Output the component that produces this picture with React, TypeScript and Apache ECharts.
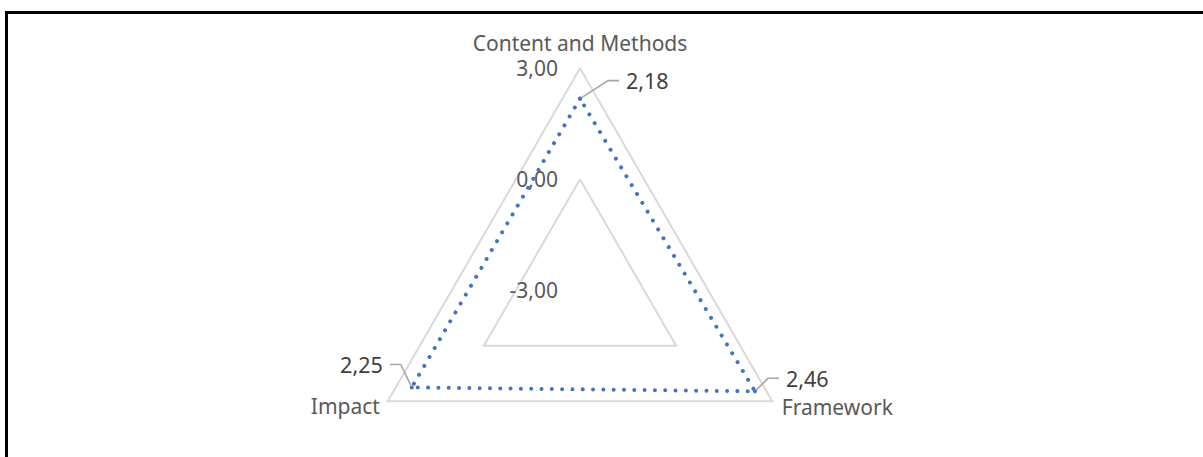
import React, { useEffect, useRef } from 'react';
import * as echarts from 'echarts';

// Radar axes, listed counter-clockwise from the top (ECharts order)
const indicators = ['Content and Methods', 'Impact', 'Framework'];
const scores = [2.18, 2.25, 2.46];
const axisMin = -3;
const axisMax = 3;
const axisSplits = 2;

const fmt = (v: number) => Number(v).toFixed(2).replace('.', ',');

const CX = 580;
const CY = 290.3;
const R = 222;
const FONT = 'Noto Sans';
const FONT_SIZE = 21;

export default function App() {
  const ref = useRef<HTMLDivElement>(null);

  useEffect(() => {
    const chart = echarts.init(ref.current!, null, { renderer: 'svg' });
    chart.setOption({
      animation: false,
      backgroundColor: '#ffffff',
      graphic: [
        {
          type: 'polyline',
          shape: { points: [[6.5, 457], [6.5, 12.5], [1203, 12.5]] },
          style: { stroke: '#000000', lineWidth: 3, fill: 'none' },
        },
      ],
      radar: {
        center: [CX, CY],
        radius: R,
        startAngle: 90,
        shape: 'polygon',
        splitNumber: axisSplits,
        indicator: indicators.map((name, i) => ({
          name,
          min: axisMin,
          max: axisMax,
          nameGap: i === 0 ? 15 : i === 1 ? 9 : 11,
          axisLabel: { show: i === 0 },
        })),
        axisName: { color: '#595959', fontSize: FONT_SIZE, fontFamily: FONT },
        axisLine: { show: false },
        axisTick: { show: false },
        splitLine: { lineStyle: { color: '#d9d9d9', width: 2 } },
        splitArea: { show: false },
        axisLabel: {
          show: false,
          margin: 22,
          color: '#595959',
          fontSize: FONT_SIZE,
          fontFamily: FONT,
          formatter: (v: number) => fmt(v),
        },
      },
      series: [
        {
          type: 'radar',
          symbol: 'circle',
          symbolSize: 4,
          itemStyle: { color: '#4472C4' },
          lineStyle: { color: '#4472C4', width: 4, type: [0.01, 10.3], cap: 'round' },
          label: {
            show: true,
            formatter: (p: any) => fmt(p.value),
            color: '#404040',
            fontSize: FONT_SIZE + 0.5,
            fontFamily: FONT,
            padding: [0, 7],
            backgroundColor: 'rgba(255,255,255,0)',
          },
          labelLine: { show: true, length2: 11, lineStyle: { color: '#a6a6a6', width: 1.6 } },
          labelLayout: (params: any) => {
            const r = params.rect;
            const sx = r.x + r.width / 2;
            const sy = r.y + r.height / 2;
            if (sy < CY - R / 2) {
              return { x: sx + 39, y: sy - 18, align: 'left', verticalAlign: 'middle' };
            }
            if (sx < CX) {
              return { x: sx - 22, y: sy - 23, align: 'right', verticalAlign: 'middle' };
            }
            return { x: sx + 24, y: sy - 13, align: 'left', verticalAlign: 'middle' };
          },
          data: [{ value: scores, name: 'Score' }],
        },
      ],
    });
    return () => chart.dispose();
  }, []);

  return (
    <div
      ref={ref}
      style={{ position: 'fixed', left: 0, top: 0, width: 1203, height: 457 }}
    />
  );
}
